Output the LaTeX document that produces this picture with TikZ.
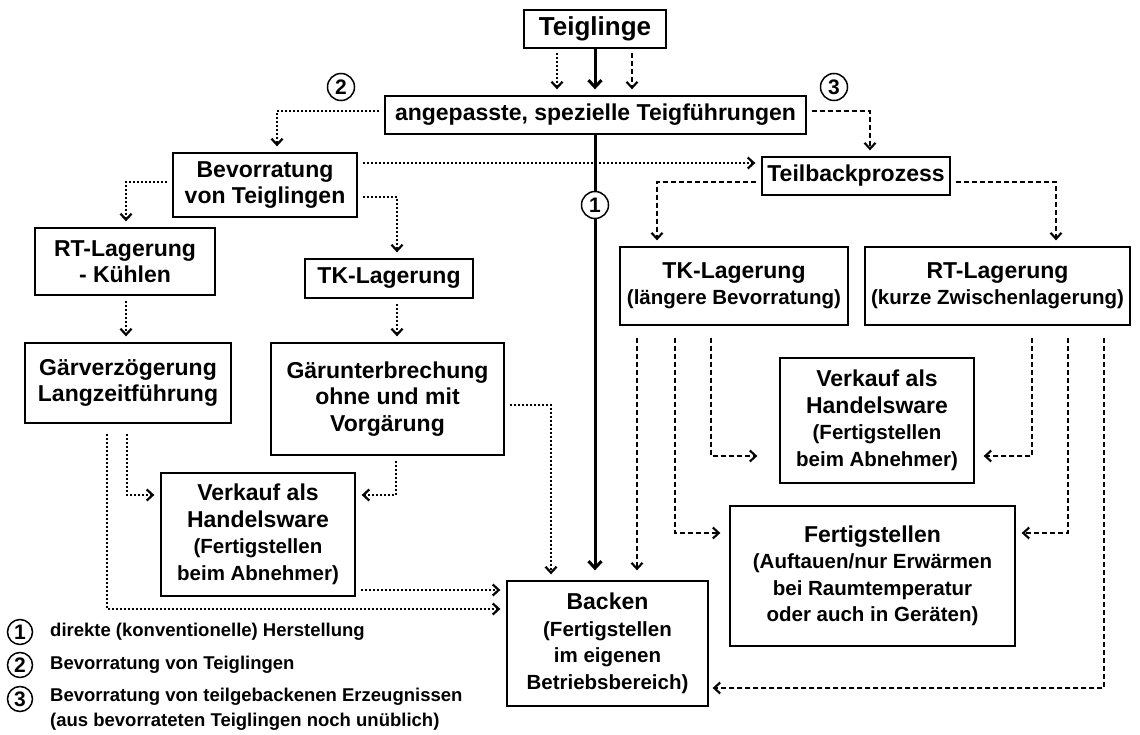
\documentclass[tikz,border=0pt]{standalone}
\usepackage{fontspec}
\setmainfont{Liberation Sans}
\usetikzlibrary{arrows.meta,calc}
\newcommand\mainfs{\fontsize{23}{26.5}\selectfont\bfseries}
\newcommand\subfs{\fontsize{20.5}{24}\selectfont\bfseries}
\newcommand\teigfs{\fontsize{26}{30}\selectfont\bfseries}
\newcommand\legfs{\fontsize{18.5}{25}\selectfont\bfseries}
\newcommand\numfs{\fontsize{21}{24}\selectfont\bfseries}
\begin{document}
\begin{tikzpicture}[x=1pt,y=-1pt,
  box/.style={draw,line width=1.3pt,align=center,inner sep=0pt,font=\mainfs},
  tipA/.style={-{Straight Barb[length=6pt,width=11pt]}},
  dotl/.style={line width=2.2pt,dash pattern=on 2pt off 2pt,tipA,shorten <=5pt,shorten >=6pt},
  dashl/.style={line width=2.1pt,dash pattern=on 5pt off 3pt,tipA,shorten <=5pt,shorten >=6pt},
  soll/.style={line width=3pt,-{Straight Barb[length=7pt,width=13pt]},shorten >=10pt},
  num/.style={draw,circle,line width=1.5pt,minimum size=27pt,inner sep=0pt,font=\numfs},
  legnum/.style={draw,circle,line width=1.5pt,minimum size=25pt,inner sep=0pt,font=\numfs},
  legtext/.style={anchor=west,align=left,inner sep=0pt,font=\legfs}
]
\useasboundingbox (0,0) rectangle (1140,735);

% boxes
\node[box,font=\teigfs,minimum width=142pt,minimum height=38pt] (teig) at (595,29) {Teiglinge};
\node[box,minimum width=421pt,minimum height=38pt] (anp) at (595.5,115) {angepasste, spezielle Teigführungen};
\node[box,minimum width=184pt,minimum height=64pt] (bev) at (265,185) {Bevorratung\\von Teiglingen};
\node[box,minimum width=188pt,minimum height=38pt] (teilb) at (856,176) {Teilbackprozess};
\node[box,minimum width=180pt,minimum height=67pt] (rtl) at (125,261.5) {RT-Lagerung\\- Kühlen};
\node[box,minimum width=168pt,minimum height=39pt] (tkl) at (389,278.5) {TK-Lagerung};
\node[box,minimum width=206pt,minimum height=80pt] (gvz) at (128,383) {Gärverzögerung\\Langzeitführung};
\node[box,minimum width=233pt,minimum height=112pt] (gub) at (387.5,399) {Gärunterbrechung\\ohne und mit\\Vorgärung};
\node[box,minimum width=194pt,minimum height=123pt] (vkl) at (258,534.5) {Verkauf als\\Handelsware\\{\subfs (Fertigstellen}\\{\subfs beim Abnehmer)}};
\node[box,minimum width=201pt,minimum height=125pt] (back) at (607.5,643.5) {Backen\\{\subfs (Fertigstellen}\\{\subfs im eigenen}\\{\subfs Betriebsbereich)}};
\node[box,minimum width=228pt,minimum height=78pt] (tkr) at (734,286) {TK-Lagerung\\{\subfs (längere Bevorratung)}};
\node[box,minimum width=265pt,minimum height=78pt] (rtr) at (997.5,286) {RT-Lagerung\\{\subfs (kurze Zwischenlagerung)}};
\node[box,minimum width=194pt,minimum height=125pt] (vkr) at (877,420.5) {Verkauf als\\Handelsware\\{\subfs (Fertigstellen}\\{\subfs beim Abnehmer)}};
\node[box,minimum width=285pt,minimum height=140pt] (fert) at (872.5,576) {Fertigstellen\\{\subfs (Auftauen/nur Erwärmen}\\{\subfs bei Raumtemperatur}\\{\subfs oder auch in Geräten)}};

% numbered circles
\node[num] (n2) at (341,87) {2};
\node[num] (n3) at (834,87) {3};

% coordinates for routing
\coordinate (xa) at (557,0);
\coordinate (xb) at (595,0);
\coordinate (xc) at (632,0);
\coordinate (p2) at (277,111);
\coordinate (p3) at (870,111);
\coordinate (pb1) at (0,163);
\coordinate (pb2) at (126,182);
\coordinate (pb3) at (397,197);
\coordinate (pt1) at (657,182);
\coordinate (pt2) at (1056,182);
\coordinate (pg1) at (551,405);
\coordinate (pg2) at (107,609);
\coordinate (pg3) at (127,495);
\coordinate (pg4) at (396,495);
\coordinate (pv) at (0,590);
\coordinate (pk1) at (637,0);
\coordinate (pk2) at (675,533);
\coordinate (pk3) at (711,456);
\coordinate (pr1) at (1032,456);
\coordinate (pr2) at (1068,533);
\coordinate (pr3) at (1104,688);

% top arrows
\draw[dotl,shorten <=4pt] (teig.south -| xa) -- (anp.north -| xa);
\draw[line width=3pt,-{Straight Barb[length=7pt,width=13pt]},shorten >=6pt] (teig.south -| xb) -- (anp.north -| xb);
\draw[dashl,shorten <=4pt] (teig.south -| xc) -- (anp.north -| xc);

% main solid line
\draw[soll] (anp.south -| xb) -- (back.north -| xb);
\node[num,fill=white] (n1) at (595,205) {1};

% branch 2
\draw[dotl] (anp.west |- p2) -| (bev.north -| p2);
\draw[dotl] (bev.east |- pb1) -- (teilb.west |- pb1);
\draw[dotl] (bev.west |- pb2) -| (rtl.north -| pb2);
\draw[dotl] (bev.east |- pb3) -| (tkl.north -| pb3);
\draw[dotl] (rtl.south -| pb2) -- (gvz.north -| pb2);
\draw[dotl] (tkl.south -| pb3) -- (gub.north -| pb3);
\draw[dotl] (gub.east |- pg1) -| (back.north -| pg1);
\draw[dotl,shorten <=10pt] (gvz.south -| pg2) |- (back.west |- pg2);
\draw[dotl,shorten <=10pt] (gvz.south -| pg3) |- (vkl.west |- pg3);
\draw[dotl] (gub.south -| pg4) |- (vkl.east |- pg4);
\draw[dotl] (vkl.east |- pv) -- (back.west |- pv);

% branch 3
\draw[dashl] (anp.east |- p3) -| (teilb.north -| p3);
\draw[dashl] (teilb.west |- pt1) -| (tkr.north -| pt1);
\draw[dashl] (teilb.east |- pt2) -| (rtr.north -| pt2);
\draw[dashl,shorten <=12pt,shorten >=10pt] (tkr.south -| pk1) -- (back.north -| pk1);
\draw[dashl,shorten <=12pt,shorten >=9pt] (tkr.south -| pk2) |- (fert.west |- pk2);
\draw[dashl,shorten <=12pt,shorten >=22pt] (tkr.south -| pk3) |- (vkr.west |- pk3);
\draw[dashl,shorten <=12pt,shorten >=9pt] (rtr.south -| pr1) |- (vkr.east |- pr1);
\draw[dashl,shorten <=12pt,shorten >=6pt] (rtr.south -| pr2) |- (fert.east |- pr2);
\draw[dashl,shorten <=12pt,shorten >=4pt] (rtr.south -| pr3) |- (back.east |- pr3);

% legend
\node[legnum] (l1) at (20,632) {1};
\node[legnum] (l2) at (20,665) {2};
\node[legnum] (l3) at (20,699) {3};
\node[legtext] (t1) at (50,632) {direkte (konventionelle) Herstellung};
\node[legtext] (t2) at (50,665) {Bevorratung von Teiglingen};
\node[legtext,anchor=north west] (t3) at (50,688) {Bevorratung von teilgebackenen Erzeugnissen\\(aus bevorrateten Teiglingen noch unüblich)};
\end{tikzpicture}
\end{document}
